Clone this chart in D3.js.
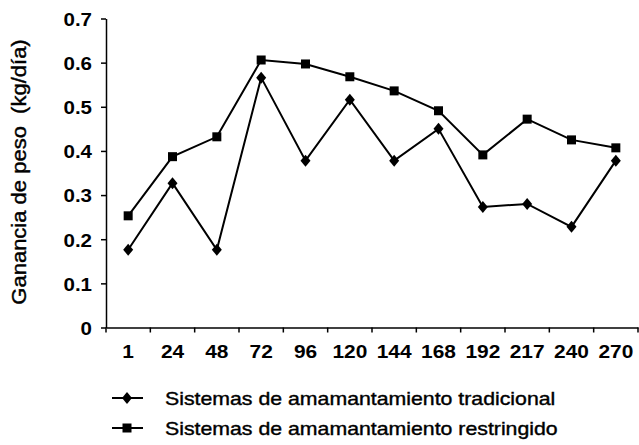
<!DOCTYPE html>
<html>
<head>
<meta charset="utf-8">
<script src="https://cdn.jsdelivr.net/npm/d3@7"></script>
<style>
  body { margin: 0; background: #fff; }
  svg text { font-family: "Liberation Sans", Arial, sans-serif; fill: #000; }
  .thick { stroke: #000; stroke-width: 0.4px; }
</style>
</head>
<body>
<div id="chart"></div>
<script>
var days = ["1", "24", "48", "72", "96", "120", "144", "168", "192", "217", "240", "270"];
var tradicional = [0.176, 0.327, 0.176, 0.566, 0.378, 0.516, 0.378, 0.450, 0.273, 0.280, 0.228, 0.378];
var restringido = [0.253, 0.387, 0.432, 0.606, 0.597, 0.568, 0.536, 0.491, 0.391, 0.472, 0.425, 0.407];
var yTicks = [0, 0.1, 0.2, 0.3, 0.4, 0.5, 0.6, 0.7];
var seriesNames = ["Sistemas de amamantamiento tradicional", "Sistemas de amamantamiento restringido"];

var width = 639, height = 445;

var svg = d3.select("#chart")
	.append("svg")
	.attr("width", width)
	.attr("height", height);

// the scanned text is wider than plain Helvetica, so stretch it a bit
function widen(sel, factor) {
	sel.each(function() {
		d3.select(this)
			.attr("textLength", this.getComputedTextLength() * factor)
			.attr("lengthAdjust", "spacingAndGlyphs");
	});
}

var x = d3.scaleBand()
	.domain(days)
	.range([106, 638])
	.padding(0);

var y = d3.scaleLinear()
	.domain([0, 0.7])
	.range([327.5, 18.5]);

// y axis
var yAxis = d3.axisLeft(y)
	.tickValues(yTicks)
	.tickSize(5)
	.tickSizeOuter(0)
	.tickPadding(9)
	.tickFormat(function(d) { return d === 0 ? "0" : d3.format(".1f")(d); });

var gy = svg.append("g")
	.attr("transform", "translate(106,0)")
	.call(yAxis);
gy.selectAll("text")
	.style("font-size", "19px")
	.style("font-weight", "bold")
	.attr("dy", "0.36em")
	.call(widen, 1.08);
gy.selectAll("path, line").attr("stroke", "#000").attr("stroke-width", 1.5);

// x axis (labels at band centres, ticks on band edges)
var xAxis = d3.axisBottom(x)
	.tickSize(0)
	.tickSizeOuter(0)
	.tickPadding(17);

var gx = svg.append("g")
	.attr("transform", "translate(0,327.5)")
	.call(xAxis);
gx.selectAll("text")
	.style("font-size", "19px")
	.style("font-weight", "bold")
	.call(widen, 1.1);
gx.select("path").attr("stroke", "#000").attr("stroke-width", 1.5);

var edges = days.map(function(d) { return x(d); });
edges.push(x.range()[1]);
gx.selectAll(".edge")
	.data(edges)
	.enter()
	.append("line")
	.attr("class", "edge")
	.attr("x1", function(d) { return d; })
	.attr("x2", function(d) { return d; })
	.attr("y1", 0)
	.attr("y2", 5)
	.attr("stroke", "#000")
	.attr("stroke-width", 1.5);

// y label
svg.append("text")
	.attr("class", "thick")
	.attr("transform", "translate(26,172) rotate(-90)")
	.attr("text-anchor", "middle")
	.style("font-size", "20px")
	.style("white-space", "pre")
	.text("Ganancia de peso  (kg/d\u00eda)")
	.call(widen, 1.1);

var line = d3.line()
	.x(function(d, i) { return x(days[i]) + x.bandwidth() / 2; })
	.y(function(d) { return y(d); });

function diamond(g, cx, cy) {
	g.append("path")
		.attr("d", "M" + cx + "," + (cy - 6) + "L" + (cx + 5) + "," + cy + "L" + cx + "," + (cy + 6) + "L" + (cx - 5) + "," + cy + "Z")
		.attr("fill", "#000");
}

function square(g, cx, cy) {
	g.append("rect")
		.attr("x", cx - 4.5)
		.attr("y", cy - 4.5)
		.attr("width", 9)
		.attr("height", 9)
		.attr("fill", "#000");
}

function drawSeries(values, marker) {
	var g = svg.append("g");
	g.append("path")
		.datum(values)
		.attr("d", line)
		.attr("fill", "none")
		.attr("stroke", "#000")
		.attr("stroke-width", 2);
	values.forEach(function(v, i) {
		marker(g, x(days[i]) + x.bandwidth() / 2, y(v));
	});
}

drawSeries(restringido, square);
drawSeries(tradicional, diamond);

// legend
var legendRows = [
	{ name: seriesNames[0], marker: diamond, y: 398 },
	{ name: seriesNames[1], marker: square, y: 428 }
];
legendRows.forEach(function(r) {
	var g = svg.append("g");
	g.append("line")
		.attr("x1", 112).attr("x2", 143)
		.attr("y1", r.y).attr("y2", r.y)
		.attr("stroke", "#000").attr("stroke-width", 2);
	r.marker(g, 127, r.y);
	g.append("text")
		.attr("class", "thick")
		.attr("x", 165)
		.attr("y", r.y + 7)
		.style("font-size", "19px")
		.text(r.name)
		.call(widen, 1.12);
});
</script>
</body>
</html>
